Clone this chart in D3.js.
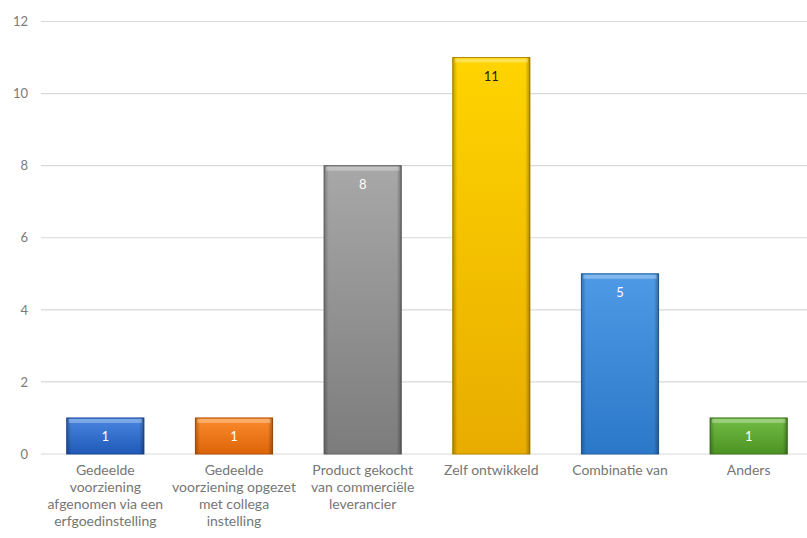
<!DOCTYPE html>
<html>
<head>
<meta charset="utf-8">
<script src="https://cdn.jsdelivr.net/npm/d3@7"></script>
<style>
  body { margin: 0; background: #fff; }
  svg { display: block; }
</style>
</head>
<body>
<div id="chart"></div>
<script>
const categories = [
  ["Gedeelde", "voorziening", "afgenomen via een", "erfgoedinstelling"],
  ["Gedeelde", "voorziening opgezet", "met collega", "instelling"],
  ["Product gekocht", "van commerciële", "leverancier"],
  ["Zelf ontwikkeld"],
  ["Combinatie van"],
  ["Anders"]
]
const values = [1, 1, 8, 11, 5, 1]
const yTicks = [0, 2, 4, 6, 8, 10, 12]
const barColors = [
  { top: "#4a86e0", bottom: "#2059b8", label: "#fff" },
  { top: "#fb8c2c", bottom: "#dd6408", label: "#fff" },
  { top: "#a8a8a8", bottom: "#7c7c7c", label: "#fff" },
  { top: "#ffd400", bottom: "#e8ac00", label: "#222" },
  { top: "#4e9ae6", bottom: "#2c78c8", label: "#fff" },
  { top: "#72be44", bottom: "#4c9224", label: "#fff" }
]

const width = 807, height = 538
const font = "Lato, 'Open Sans', sans-serif"

const svg = d3.select("#chart").append("svg")
  .attr("width", width)
  .attr("height", height)

const x = d3.scaleBand()
  .domain(d3.range(values.length))
  .range([41, 813])
  .paddingInner(0.4)
  .paddingOuter(0.2)

const y = d3.scaleLinear()
  .domain([0, 12])
  .range([454, 21.5])

// gradients for the bevelled bars
const defs = svg.append("defs")
barColors.forEach((c, i) => {
  const g = defs.append("linearGradient")
    .attr("id", "grad" + i)
    .attr("x1", 0).attr("y1", 0).attr("x2", 0).attr("y2", 1)
  g.append("stop").attr("offset", "0%").attr("stop-color", c.top)
  g.append("stop").attr("offset", "100%").attr("stop-color", c.bottom)
  const h = defs.append("linearGradient")
    .attr("id", "side" + i)
    .attr("x1", 0).attr("y1", 0).attr("x2", 1).attr("y2", 0)
  h.append("stop").attr("offset", "0%").attr("stop-color", "#000").attr("stop-opacity", 0.25)
  h.append("stop").attr("offset", "6%").attr("stop-color", "#000").attr("stop-opacity", 0)
  h.append("stop").attr("offset", "94%").attr("stop-color", "#000").attr("stop-opacity", 0)
  h.append("stop").attr("offset", "100%").attr("stop-color", "#000").attr("stop-opacity", 0.3)
})

// gridlines
svg.append("g")
  .selectAll("line")
  .data(yTicks)
  .join("line")
  .attr("x1", 41)
  .attr("x2", width)
  .attr("y1", d => y(d))
  .attr("y2", d => y(d))
  .attr("stroke", "#d9d9d9")
  .attr("stroke-width", 1.2)

// y axis labels
const yAxis = d3.axisLeft(y).tickValues(yTicks).tickSize(0).tickPadding(0)
svg.append("g")
  .attr("transform", "translate(28,0)")
  .call(yAxis)
  .call(g => g.select(".domain").remove())
  .call(g => g.selectAll("text")
    .attr("fill", "#7a7a7a")
    .style("font-size", "13px")
    .style("font-family", font))

// bars
const bars = svg.append("g")
  .selectAll("g")
  .data(values)
  .join("g")

bars.append("rect")
  .attr("x", (d, i) => x(i))
  .attr("y", d => y(d))
  .attr("width", x.bandwidth())
  .attr("height", d => y(0) - y(d))
  .attr("fill", (d, i) => `url(#grad${i})`)
  .attr("stroke", (d, i) => d3.color(barColors[i].bottom).darker(0.6))
  .attr("stroke-width", 1)

bars.append("rect")
  .attr("x", (d, i) => x(i))
  .attr("y", d => y(d))
  .attr("width", x.bandwidth())
  .attr("height", d => y(0) - y(d))
  .attr("fill", (d, i) => `url(#side${i})`)

// top highlight
bars.append("rect")
  .attr("x", (d, i) => x(i) + 2)
  .attr("y", d => y(d) + 1)
  .attr("width", x.bandwidth() - 4)
  .attr("height", 4)
  .attr("fill", "#fff")
  .attr("opacity", 0.3)

bars.append("text")
  .attr("x", (d, i) => x(i) + x.bandwidth() / 2)
  .attr("y", d => y(d) + 23)
  .attr("text-anchor", "middle")
  .attr("fill", (d, i) => barColors[i].label)
  .style("font-size", "13px")
  .style("font-family", font)
  .text(d => d)

// category labels
const catLabels = svg.append("g")
  .selectAll("text")
  .data(categories)
  .join("text")
  .attr("x", (d, i) => x(i) + x.bandwidth() / 2)
  .attr("y", 475)
  .attr("text-anchor", "middle")
  .attr("fill", "#767676")
  .style("font-size", "14px")
  .style("font-family", font)

catLabels.selectAll("tspan")
  .data((d, i) => d.map(line => ({ line, i })))
  .join("tspan")
  .attr("x", d => x(d.i) + x.bandwidth() / 2)
  .attr("dy", (d, j) => j === 0 ? 0 : 17)
  .text(d => d.line)
</script>
</body>
</html>
